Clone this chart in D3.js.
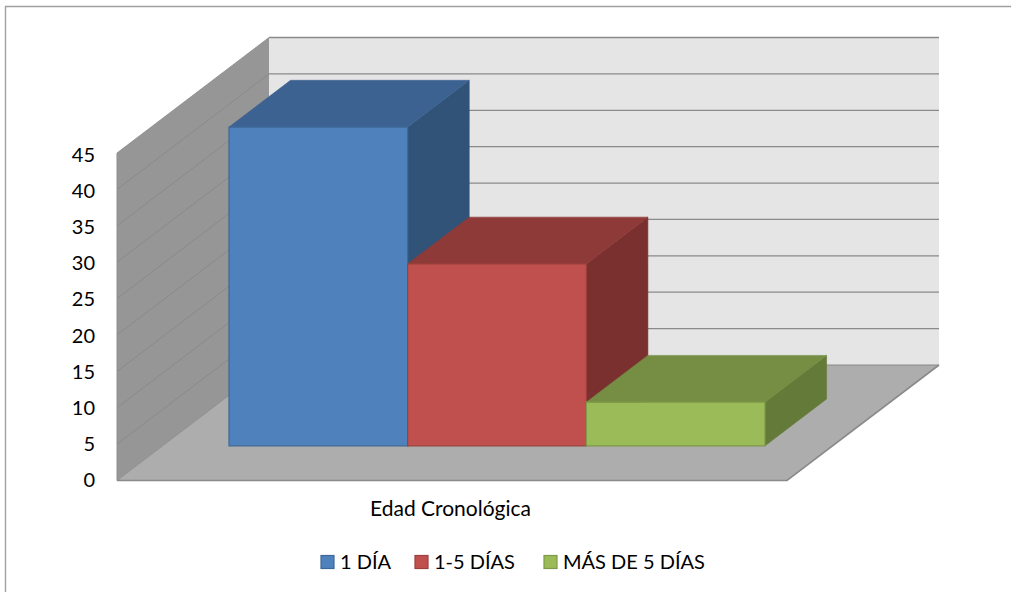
<!DOCTYPE html>
<html><head><meta charset="utf-8">
<style>html,body{margin:0;padding:0;background:#fff}svg{display:block}text{font-family:Lato,"Open Sans",sans-serif;fill:#000}</style>
<script src="https://d3js.org/d3.v7.min.js"></script></head>
<body><svg id="c" width="1011" height="592"></svg>
<script>
const categories=["Edad Cronológica"];
const seriesNames=["1 DÍA","1-5 DÍAS","MÁS DE 5 DÍAS"];
const seriesValues=[43.8,25,6];
const tickValues=[0,5,10,15,20,25,30,35,40,45];
const frontColors=["#4f81bd","#c0504d","#9bbb59"];
const topColors=["#3c6291","#8e3a38","#758e43"];
const sideColors=["#325378","#7a302e","#637a38"];
const edgeColors=["#3e6896","#9c403d","#7d9a47"];

const svg=d3.select("#c");
svg.append("path").attr("d","M5.5,592V6.5H1011").attr("fill","none").attr("stroke","#a0a0a0").attr("stroke-width",1.4);

const y=d3.scaleLinear().domain([0,45]).range([480.5,153]);
const labelY=d3.scaleLinear().domain([0,45]).range([487,162]);
const dep=d3.scaleLinear().domain([0,1]).range([0,152]);
const depY=d3.scaleLinear().domain([0,1]).range([0,-115.5]);
const x0=117,xW=670;
const pt=(fx,v,d)=>[x0+fx*xW+dep(d),y(v)+depY(d)];
const poly=(pts,fill,stroke,sw)=>svg.append("polygon").attr("points",pts.map(p=>p.join(",")).join(" ")).attr("fill",fill).attr("stroke",stroke||"none").attr("stroke-width",sw||1);

poly([pt(0,0,0),pt(1,0,0),pt(1,0,1),pt(0,0,1)],"#adadad");
poly([pt(0,0,1),pt(1,0,1),pt(1,45,1),pt(0,45,1)],"#e5e5e5");
poly([pt(0,0,0),pt(0,0,1),pt(0,45,1),pt(0,45,0)],"#969696");
tickValues.forEach(t=>{
  const a=pt(0,t,0),b=pt(0,t,1),c=pt(1,t,1);
  svg.append("line").attr("x1",a[0]).attr("y1",a[1]).attr("x2",b[0]).attr("y2",b[1]).attr("stroke","#868686").attr("stroke-width",.8);
  svg.append("line").attr("x1",b[0]).attr("y1",b[1]).attr("x2",c[0]).attr("y2",c[1]).attr("stroke","#8a8a8a").attr("stroke-width",t===45?1.6:1.2);
});
svg.append("polyline").attr("points",[pt(0,0,0),pt(1,0,0),pt(1,0,1)].map(p=>p.join(",")).join(" ")).attr("fill","none").attr("stroke","#8a8a8a").attr("stroke-width",1.6);
svg.append("line").attr("x1",x0).attr("x2",x0).attr("y1",y(0)).attr("y2",y(45)).attr("stroke","#8f8f8f");

const band=d3.scaleBand().domain(seriesNames).range([0.0991,0.8991]);
const dFront=0.3,dBack=0.705;
seriesNames.forEach((s,i)=>{
  const a=band(s),b=a+band.bandwidth(),v=seriesValues[i];
  poly([pt(b,0,dFront),pt(b,0,dBack),pt(b,v,dBack),pt(b,v,dFront)],sideColors[i],sideColors[i],.6);
  poly([pt(a,v,dFront),pt(b,v,dFront),pt(b,v,dBack),pt(a,v,dBack)],topColors[i],topColors[i],.6);
  poly([pt(a,0,dFront),pt(b,0,dFront),pt(b,v,dFront),pt(a,v,dFront)],frontColors[i],edgeColors[i],1.2);
});

tickValues.forEach(t=>{
  svg.append("text").attr("x",95).attr("y",labelY(t)).attr("text-anchor","end").attr("font-size",20).text(t);
});
svg.append("text").attr("x",450.5).attr("y",516).attr("text-anchor","middle").attr("font-size",21).text(categories[0]);

const legX=[321,415,544],txtX=[340,434,563];
seriesNames.forEach((s,i)=>{
  svg.append("rect").attr("x",legX[i]).attr("y",555.5).attr("width",13).attr("height",13).attr("fill",frontColors[i]).attr("stroke",edgeColors[i]).attr("stroke-width",1.2);
  svg.append("text").attr("x",txtX[i]).attr("y",568.5).attr("font-size",20).text(s);
});
</script></body></html>
